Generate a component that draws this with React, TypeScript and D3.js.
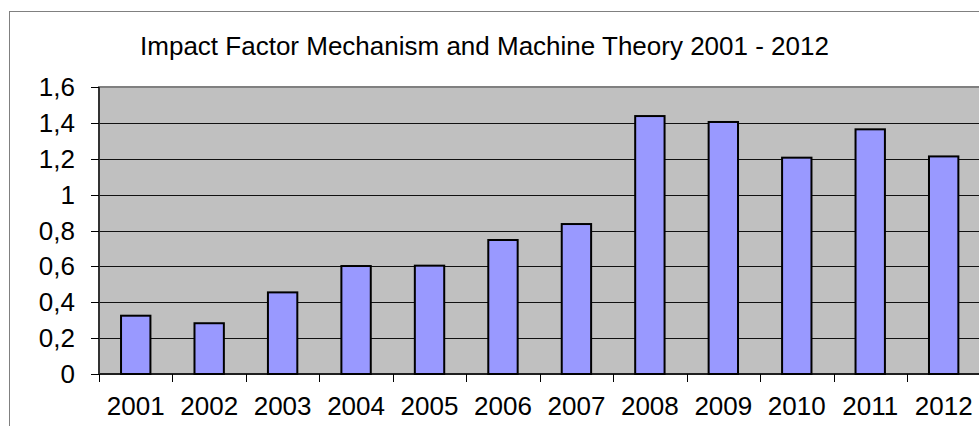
import React, { useEffect, useRef } from "react";
import * as d3 from "d3";

const years = ["2001", "2002", "2003", "2004", "2005", "2006", "2007", "2008", "2009", "2010", "2011", "2012"];
const impactFactor = [0.325, 0.283, 0.455, 0.602, 0.604, 0.747, 0.836, 1.438, 1.405, 1.206, 1.364, 1.213];
const yTicks = [0, 0.2, 0.4, 0.6, 0.8, 1, 1.2, 1.4, 1.6];
const title = "Impact Factor Mechanism and Machine Theory 2001 - 2012";

const App: React.FC = () => {
  const svgRef = useRef<SVGSVGElement>(null);

  useEffect(() => {
    const width = 979;
    const height = 426;
    const left = 99;
    const right = 980.4;
    const top = 87;
    const bottom = 374;
    const font = "'Liberation Sans', Arial, sans-serif";

    const svg = d3.select(svgRef.current);
    svg.selectAll("*").remove();
    svg.attr("width", width).attr("height", height);

    // white background + chart frame
    svg.append("rect").attr("width", width).attr("height", height).attr("fill", "white");
    svg
      .append("rect")
      .attr("x", 9.5)
      .attr("y", 11.5)
      .attr("width", 1000)
      .attr("height", 500)
      .attr("fill", "none")
      .attr("stroke", "#808080")
      .attr("stroke-width", 1);

    const x = d3.scaleBand<string>().domain(years).range([left, right]).paddingInner(0.6).paddingOuter(0.3);
    const y = d3.scaleLinear().domain([0, 1.6]).range([bottom, top]);

    // plot area
    svg
      .append("rect")
      .attr("x", left)
      .attr("y", top)
      .attr("width", right - left)
      .attr("height", bottom - top)
      .attr("fill", "#C0C0C0")
      .attr("stroke", "#808080")
      .attr("stroke-width", 2);

    // gridlines
    svg
      .selectAll("line.grid")
      .data(yTicks.filter((t) => t > 0 && t < 1.6))
      .join("line")
      .attr("class", "grid")
      .attr("x1", left)
      .attr("x2", right)
      .attr("y1", (d) => Math.round(y(d)) + 0.5)
      .attr("y2", (d) => Math.round(y(d)) + 0.5)
      .attr("stroke", "#111")
      .attr("stroke-width", 1);

    // bars
    svg
      .selectAll("rect.bar")
      .data(impactFactor)
      .join("rect")
      .attr("class", "bar")
      .attr("x", (_, i) => x(years[i])!)
      .attr("y", (d) => y(d))
      .attr("width", x.bandwidth())
      .attr("height", (d) => bottom - y(d))
      .attr("fill", "#9999FF")
      .attr("stroke", "black")
      .attr("stroke-width", 2);

    // axes lines
    svg.append("line").attr("x1", left).attr("x2", right).attr("y1", bottom).attr("y2", bottom).attr("stroke", "black").attr("stroke-width", 1.5);
    svg.append("line").attr("x1", left).attr("x2", left).attr("y1", top).attr("y2", bottom).attr("stroke", "#333").attr("stroke-width", 2);

    // y ticks + labels
    svg
      .selectAll("line.ytick")
      .data(yTicks)
      .join("line")
      .attr("class", "ytick")
      .attr("x1", left - 8)
      .attr("x2", left)
      .attr("y1", (d) => Math.round(y(d)) + 0.5)
      .attr("y2", (d) => Math.round(y(d)) + 0.5)
      .attr("stroke", "black");

    svg
      .selectAll("text.ylabel")
      .data(yTicks)
      .join("text")
      .attr("class", "ylabel")
      .attr("x", 75)
      .attr("y", (d) => y(d))
      .attr("dy", "0.35em")
      .attr("text-anchor", "end")
      .style("font-family", font)
      .style("font-size", "26px")
      .text((d) => d3.format(".1~f")(d).replace(".", ","));

    // x ticks at category boundaries
    const step = x.step();
    svg
      .selectAll("line.xtick")
      .data(d3.range(years.length + 1))
      .join("line")
      .attr("class", "xtick")
      .attr("x1", (i) => Math.round(left + i * step) + 0.5)
      .attr("x2", (i) => Math.round(left + i * step) + 0.5)
      .attr("y1", bottom)
      .attr("y2", bottom + 8)
      .attr("stroke", "black");

    svg
      .selectAll("text.xlabel")
      .data(years)
      .join("text")
      .attr("class", "xlabel")
      .attr("x", (d) => x(d)! + x.bandwidth() / 2)
      .attr("y", 415)
      .attr("text-anchor", "middle")
      .style("font-family", font)
      .style("font-size", "26px")
      .text((d) => d);

    // title
    svg
      .append("text")
      .attr("x", 484.5)
      .attr("y", 54.5)
      .attr("text-anchor", "middle")
      .style("font-family", font)
      .style("font-size", "26px")
      .text(title);
  }, []);

  return <svg ref={svgRef} style={{ position: "absolute", left: 0, top: 0 }}></svg>;
};

export default App;
